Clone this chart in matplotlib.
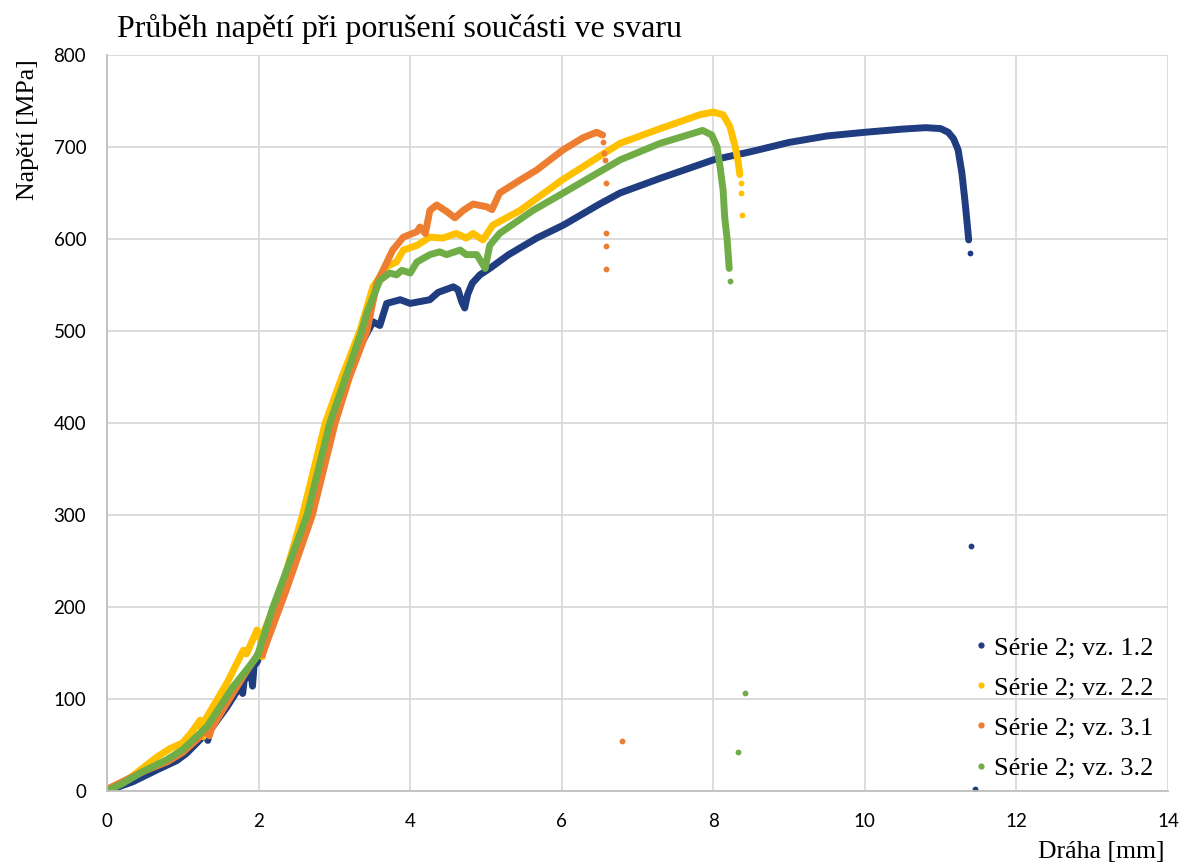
import matplotlib
matplotlib.use('Agg')
import matplotlib.pyplot as plt
from matplotlib.lines import Line2D

# --- data (x = Dráha [mm], y = Napětí [MPa]) ---
labels = ['Série 2; vz. 1.2', 'Série 2; vz. 2.2', 'Série 2; vz. 3.1', 'Série 2; vz. 3.2']
colors = ['#1f3d80', '#ffc000', '#ed7d31', '#70ad47']

x12 = [0, 0.34, 0.66, 0.92, 1.05, 1.23, 1.31, 1.33, 1.35, 1.58, 1.75, 1.78, 1.79, 1.81,
       1.9, 1.92, 1.94, 1.98, 2.2, 2.64, 2.94, 3.2, 3.38, 3.51, 3.6, 3.69, 3.87, 4.0,
       4.26, 4.37, 4.57, 4.63, 4.68, 4.72, 4.76, 4.82, 4.92, 5.05, 5.3, 5.67, 6.02, 6.5,
       6.77, 7.3, 8.0, 8.5, 9.0, 9.5, 10.0, 10.5, 10.8, 11.0, 11.1, 11.17, 11.23, 11.28,
       11.32, 11.35, 11.37]
y12 = [0, 10, 23, 33, 41, 56, 64, 55, 65, 91, 113, 118, 106, 120,
       130, 114, 136, 140, 192, 296, 398, 460, 490, 510, 506, 530, 534, 530,
       534, 542, 548, 545, 532, 525, 540, 552, 561, 568, 583, 601, 615, 638,
       650, 666, 686, 695, 705, 712, 716, 719.5, 721, 720, 716, 709, 697, 672,
       642, 617, 599]
dx12 = [11.39, 11.4, 11.45]
dy12 = [585, 266, 2]

x22 = [0, 0.3, 0.52, 0.66, 0.83, 0.99, 1.1, 1.23, 1.25, 1.27, 1.3, 1.58, 1.8, 1.84,
       1.98, 2.02, 2.05, 2.08, 2.3, 2.58, 2.88, 3.1, 3.34, 3.51, 3.69, 3.82, 3.91, 4.09,
       4.26, 4.43, 4.61, 4.74, 4.83, 4.96, 5.09, 5.45, 6.02, 6.77, 7.3, 7.82, 8.0, 8.13,
       8.22, 8.29, 8.33, 8.35]
y22 = [0, 14, 28, 37, 46, 52, 62, 77, 70, 59, 78, 117, 153, 149,
       175, 170, 146, 175, 220, 300, 400, 450, 501, 548, 570, 575, 588, 593,
       602, 601, 606, 601, 606, 599, 615, 631, 665, 704, 720, 735, 738, 735,
       722, 700, 683, 670]
dx22 = [8.36, 8.37, 8.38]
dy22 = [661, 650, 626]

x31 = [0, 0.2, 0.5, 0.8, 1.0, 1.2, 1.3, 1.35, 1.38, 1.6, 1.8, 2.0, 2.05, 2.11, 2.35,
       2.71, 3.01, 3.2, 3.43, 3.56, 3.77, 3.91, 4.09, 4.13, 4.2, 4.26, 4.35, 4.48, 4.59,
       4.7, 4.83, 5.01, 5.08, 5.18, 5.45, 5.67, 6.02, 6.28, 6.46, 6.54]
y31 = [2, 10, 22, 32, 42, 57, 67, 60, 68, 98, 125, 150, 148, 162, 215,
       300, 400, 450, 500, 552, 588, 602, 608, 613, 606, 631, 637, 630, 623,
       631, 638, 635, 632, 650, 664, 675, 697, 710, 716, 713]
dx31 = [6.55, 6.56, 6.57, 6.58, 6.58, 6.58, 6.59, 6.79]
dy31 = [705, 693, 686, 661, 606, 592, 567, 54]

x32 = [0, 0.2, 0.47, 0.79, 1.0, 1.32, 1.66, 1.98, 2.19, 2.64, 2.94, 3.15, 3.36, 3.43,
       3.6, 3.73, 3.82, 3.89, 4.0, 4.09, 4.26, 4.39, 4.48, 4.66, 4.74, 4.88, 4.99, 5.05,
       5.18, 5.62, 6.02, 6.77, 7.3, 7.86, 7.98, 8.05, 8.09, 8.13, 8.15, 8.18, 8.2, 8.21]
y32 = [0, 8, 21, 34, 45, 70, 113, 146, 200, 300, 400, 450, 500, 520,
       555, 563, 561, 566, 563, 575, 583, 586, 583, 588, 583, 583, 568, 593,
       606, 631, 650, 686, 704, 718, 713, 700, 678, 653, 624, 602, 580, 568]
dx32 = [8.22, 8.42, 8.32]
dy32 = [554, 107, 42]

series = [(x12, y12, dx12, dy12), (x22, y22, dx22, dy22),
          (x31, y31, dx31, dy31), (x32, y32, dx32, dy32)]

fig = plt.figure(figsize=(11.89, 8.68), dpi=100)
ax = fig.add_axes([107/1189, 1 - 791/868, (1168-107)/1189, (791-55)/868])

for (x, y, dx, dy), c in zip(series, colors):
    ax.plot(x, y, '-', color=c, lw=5, solid_capstyle='round', solid_joinstyle='round')
    ax.plot(dx, dy, 'o', color=c, ms=4.2, mew=0, ls='none')

ax.set_xlim(0, 14)
ax.set_ylim(0, 800)
ax.set_xticks(range(0, 15, 2))
ax.set_yticks(range(0, 801, 100))
ax.grid(True, color='#d9d9d9', lw=1.3)
ax.set_axisbelow(True)
for s in ['top', 'right']:
    ax.spines[s].set_visible(False)
for s in ['left', 'bottom']:
    ax.spines[s].set_color('#bfbfbf')
    ax.spines[s].set_linewidth(1.3)
ax.tick_params(length=0, labelsize=13.5, colors='black')
ax.tick_params(axis='y', pad=15)
ax.tick_params(axis='x', pad=16)
for lab in ax.get_xticklabels() + ax.get_yticklabels():
    lab.set_family('Lato')

serif = 'Liberation Serif'
fig.text(117/1189, 1 - 29/868, 'Průběh napětí při porušení součásti ve svaru',
         family=serif, fontsize=23, va='center', ha='left')
fig.text(28/1189, 1 - 130/868, 'Napětí [MPa]', family=serif, fontsize=18.5,
         rotation=90, va='center', ha='center')
fig.text(1165/1189, 1 - 852/868, 'Dráha [mm]', family=serif, fontsize=18.5,
         va='center', ha='right')

handles = [Line2D([], [], ls='none', marker='o', ms=4.5, mew=0, color=c) for c in colors]
fig.legend(handles, labels, loc='lower right', bbox_to_anchor=(1167/1189, 1 - 793/868),
           frameon=False, prop={'family': serif, 'size': 19},
           handletextpad=0.1, handlelength=0.8, labelspacing=0.63, borderpad=0)

fig.savefig('out.png', dpi=100)
